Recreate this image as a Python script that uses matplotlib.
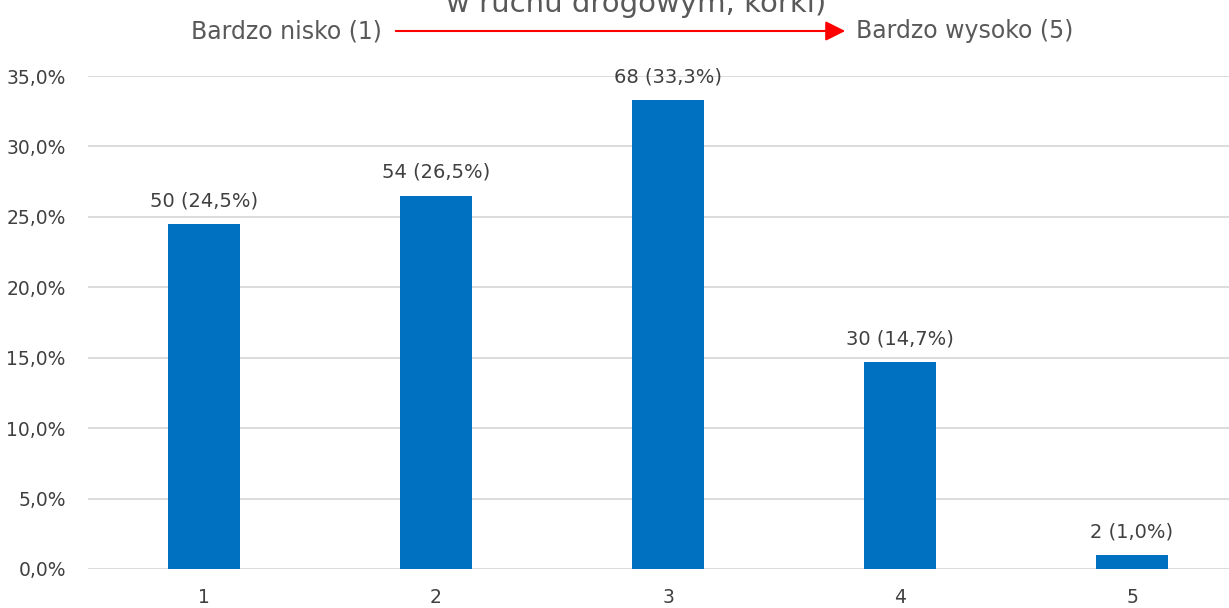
import matplotlib
matplotlib.use("Agg")
import matplotlib.pyplot as plt
from matplotlib.ticker import FuncFormatter

categories = ["1", "2", "3", "4", "5"]
counts = [50, 54, 68, 30, 2]
percents = [24.5, 26.5, 33.3, 14.7, 1.0]
yticks = [0, 5, 10, 15, 20, 25, 30, 35]

W, H = 1229, 608
fig = plt.figure(figsize=(W / 100, H / 100), dpi=100)
ax = fig.add_axes([88 / W, (H - 569) / H, 1160 / W, (569 - 76) / H])

bar_color = "#0070C0"
text_color = "#404040"
fam = ["DejaVu Sans"]

x = list(range(len(categories)))
ax.bar(x, percents, width=0.31, color=bar_color, zorder=3)
ax.set_xlim(-0.5, len(categories) - 0.5)
ax.set_ylim(0, 35)
ax.set_yticks(yticks)
ax.yaxis.set_major_formatter(FuncFormatter(lambda v, p: f"{v:.1f}%".replace(".", ",")))
ax.set_xticks(x)
ax.set_xticklabels(categories)
ax.grid(axis="y", color="#D9D9D9", linewidth=1.3, zorder=0)
ax.set_axisbelow(True)
for s in ax.spines.values():
    s.set_visible(False)
ax.tick_params(axis="both", length=0, labelsize=13.5, colors=text_color, labelfontfamily="DejaVu Sans")
ax.tick_params(axis="y", pad=16)
ax.tick_params(axis="x", pad=14)

for xi, c, p in zip(x, counts, percents):
    ax.annotate(f"{c} ({p:.1f}%)".replace(".", ","), (xi, p), xytext=(0, 10),
                textcoords="offset points", ha="center", va="bottom",
                fontsize=14, color=text_color, family=fam)

hdr = ["Liberation Sans Narrow", "DejaVu Sans"]
fig.text(636 / W, 1 - 12 / H, "w ruchu drogowym, korki)", ha="center", va="baseline",
         fontsize=21, color="#595959", family=hdr)
fig.text(382 / W, 1 - 31 / H, "Bardzo nisko (1)", ha="right", va="center",
         fontsize=17, color="#595959", family=hdr)
fig.text(856 / W, 1 - 31 / H, "Bardzo wysoko (5)", ha="left", va="center",
         fontsize=17, color="#595959", family=hdr)
fig.patches.append(matplotlib.patches.FancyArrowPatch(
    (393 / W, 1 - 31 / H), (848 / W, 1 - 31 / H), transform=fig.transFigure,
    arrowstyle="-|>,head_length=6,head_width=3", color="#FF0000", linewidth=1.5,
    mutation_scale=2))

fig.savefig("out.png", dpi=100)
